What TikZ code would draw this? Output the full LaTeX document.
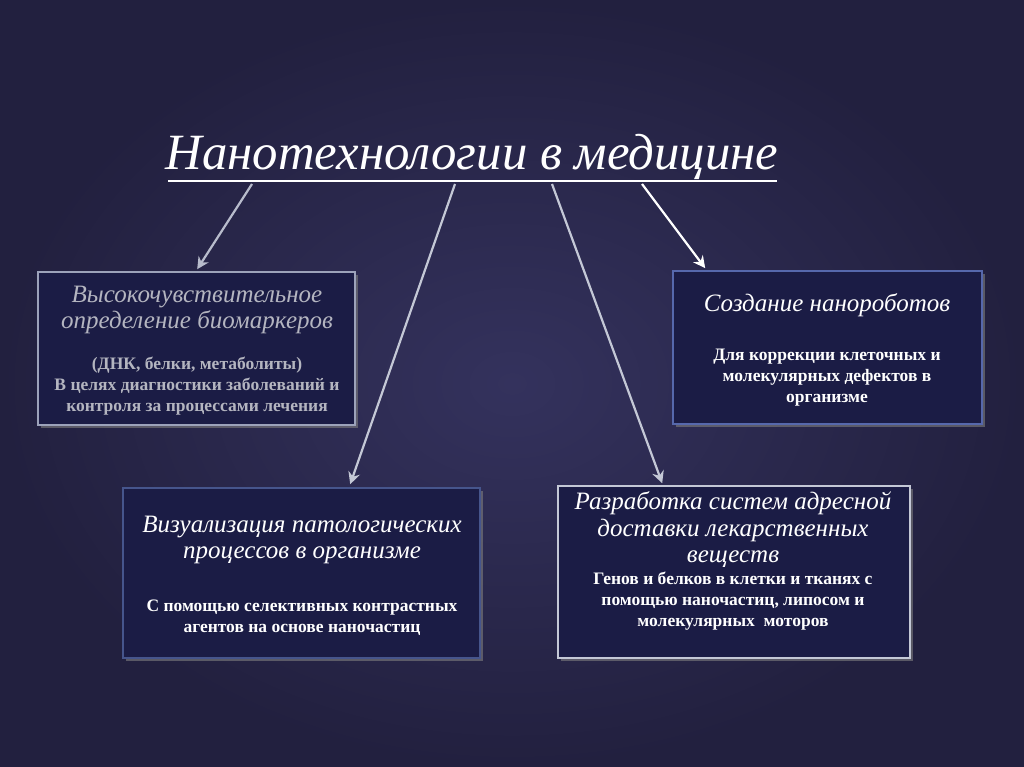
\documentclass[tikz,border=0pt]{standalone}
\usepackage{fontspec}
\setmainfont{Liberation Serif}
\usetikzlibrary{shadows,arrows.meta,calc}
\definecolor{bgin}{HTML}{34325D}
\definecolor{bgout}{HTML}{22203F}
\definecolor{boxfill}{HTML}{1B1C45}
\definecolor{grayline}{HTML}{9CA2BA}
\definecolor{blueline}{HTML}{5668AC}
\definecolor{dimblue}{HTML}{46558C}
\definecolor{lightline}{HTML}{C4C8D6}
\definecolor{dimtext}{HTML}{B4B5C0}
\definecolor{arrgray}{HTML}{B8BCCC}
\begin{document}
\begin{tikzpicture}[x=1pt,y=-1pt,
  panel/.style={draw, line width=1.6pt, fill=boxfill, inner sep=0pt,
    drop shadow={shadow xshift=3pt, shadow yshift=-3pt, opacity=0.6}},
  headtxt/.style={align=center, text=white, font=\fontsize{25}{26.5}\selectfont\itshape, inner sep=0pt},
  bodytxt/.style={align=center, text=white, font=\fontsize{17.5}{21}\selectfont\bfseries, inner sep=0pt},
  arr/.style={line width=2.2pt, -{Stealth[length=12pt, width=12pt, inset=4pt]}}]
\useasboundingbox (0,0) rectangle (1024,767);
\shade[inner color=bgin, outer color=bgout] (0,0) rectangle (1024,767);

% title
\node[font=\fontsize{50.8}{56}\selectfont\itshape, text=white, inner sep=0pt] (title) at (472,157) {Нанотехнологии в медицине};
\draw[white, line width=2pt] (168,181) -- (777,181);

% boxes
\node[panel, draw=grayline, minimum width=317pt, minimum height=153pt] (box1) at (196.5,348.5) {};
\node[panel, draw=blueline, minimum width=309pt, minimum height=153pt] (box2) at (827.5,347.5) {};
\node[panel, draw=dimblue, minimum width=357pt, minimum height=170pt] (box3) at (301.5,573) {};
\node[panel, draw=lightline, minimum width=352pt, minimum height=172pt] (box4) at (734,572) {};

% box 1 text
\node[headtxt, text=dimtext] (h1) at (197,310) {Высокочувствительное\\определение биомаркеров};
\node[bodytxt, text=dimtext] (t1) at (197,386) {(ДНК, белки, метаболиты)\\В целях диагностики заболеваний и\\контроля за процессами лечения};

% box 2 text
\node[headtxt] (h2) at (827,305) {Создание нанороботов};
\node[bodytxt] (t2) at (827,378) {Для коррекции клеточных и\\молекулярных дефектов в\\организме};

% box 3 text
\node[headtxt] (h3) at (302,540) {Визуализация патологических\\процессов в организме};
\node[bodytxt] (t3) at (302,618) {С помощью селективных контрастных\\агентов на основе наночастиц};

% box 4 text
\node[headtxt] (h4) at (733,530) {Разработка систем адресной\\доставки лекарственных\\веществ};
\node[bodytxt] (t4) at (733,601) {Генов и белков в клетки и тканях с\\помощью наночастиц, липосом и\\молекулярных~~моторов};

% arrows
\coordinate (s1) at (252,184);
\coordinate (s2) at (455,184);
\coordinate (s3) at (552,184);
\coordinate (s4) at (642,184);
\draw[arr, arrgray] (s1) -- ($(box1.north west)+(160,-2)$);
\draw[arr, lightline] (s2) -- ($(box3.north west)+(228,-3)$);
\draw[arr, lightline] (s3) -- ($(box4.north west)+(105,-2)$);
\draw[arr, white] (s4) -- ($(box2.north west)+(33,-2)$);
\end{tikzpicture}
\end{document}
